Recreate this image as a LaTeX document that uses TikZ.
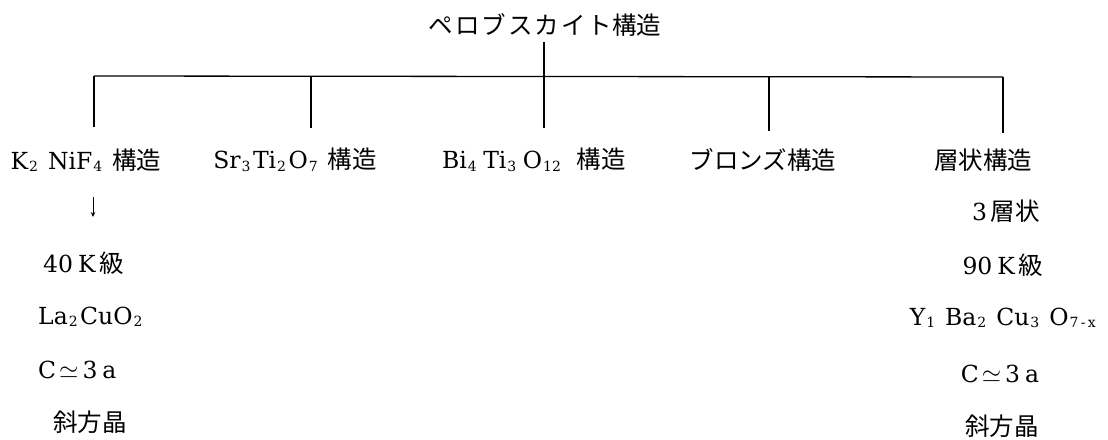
\documentclass[tikz,border=0pt]{standalone}
\usepackage{fontspec}
\usetikzlibrary{arrows.meta}
\setmainfont{DejaVu Serif}
\newfontfamily\jp{Noto Sans CJK JP}
\newcommand{\J}[1]{{\fontsize{24.5}{26}\jp #1}}
\newcommand{\sbx}[1]{\kern1pt\raisebox{-2.5pt}{\fontsize{14}{15}\selectfont #1}\kern2.5pt\relax}
\begin{document}
\begin{tikzpicture}[x=1pt,y=-1pt,
  lbl/.style={inner sep=0pt,font=\fontsize{23.5}{26}\selectfont},
  ln/.style={line width=1.3pt},
  arr/.style={line width=0.9pt,-{Stealth[length=5pt,width=4.5pt]}}]
\useasboundingbox (0,0) rectangle (1108,439);
% title
\node[lbl] (top) at (545,25) {\J{ペ\kern2ptロ\kern2ptブ\kern2ptス\kern2ptカ\kern2ptイ\kern2ptト構造}};
% tree
\coordinate (t0) at (544,42);
\coordinate (hL) at (94,76);
\coordinate (hR) at (1003,77);
\coordinate (b1) at (94,76);
\coordinate (b2) at (311,76);
\coordinate (b3) at (544,76);
\coordinate (b4) at (769,77);
\coordinate (b5) at (1003,77);
\coordinate (d1) at (94,127);
\coordinate (d2) at (311,128);
\coordinate (d3) at (544,128);
\coordinate (d4) at (769,131);
\coordinate (d5) at (1003,133);
\draw[ln] (hL) -- (hR);
\draw[ln] (t0) -- (b3);
\draw[ln] (b1) -- (d1);
\draw[ln] (b2) -- (d2);
\draw[ln] (b3) -- (d3);
\draw[ln] (b4) -- (d4);
\draw[ln] (b5) -- (d5);
% second row
\node[lbl] (k) at (86,160) {K\sbx{2} NiF\sbx{4} \J{構造}};
\node[lbl] (s) at (295,160) {Sr\sbx{3}Ti\sbx{2}O\sbx{7} \J{構造}};
\node[lbl] (b) at (534,160) {Bi\sbx{4}\kern4pt Ti\sbx{3}\kern4pt O\sbx{12}\hspace{6pt} \J{構造}};
\node[lbl] (br) at (763,160) {\J{ブロンズ構造}};
\node[lbl] (la) at (983,160) {\J{層状構造}};
% arrow
\coordinate (a0) at (93,197);
\coordinate (a1) at (93,217);
\draw[arr] (a0) -- (a1);
% left column
\node[lbl,anchor=west] (l1) at (43,263) {40\hspace{5pt}K\hspace{4pt}\J{級}};
\node[lbl,anchor=west] (l2) at (38,317) {La\sbx{2}CuO\sbx{2}};
\node[lbl,anchor=west] (l3) at (38,370) {C\hspace{3pt}$\simeq$\hspace{4pt}3\hspace{5pt}a};
\node[lbl,anchor=west] (l4) at (53,422) {\J{斜方晶}};
% right column
\node[lbl] (r0) at (1006,211) {3\hspace{4pt}\J{層状}};
\node[lbl] (r1) at (1003,265) {90\hspace{5pt}K\hspace{4pt}\J{級}};
\node[lbl] (r2) at (1004,318) {Y\sbx{1} Ba\sbx{2} Cu\sbx{3} O\sbx{7\,-\,x}};
\node[lbl] (r3) at (1000,374) {C\hspace{3pt}$\simeq$\hspace{4pt}3\hspace{5pt}a};
\node[lbl] (r4) at (1002,426) {\J{斜方晶}};
\end{tikzpicture}
\end{document}
